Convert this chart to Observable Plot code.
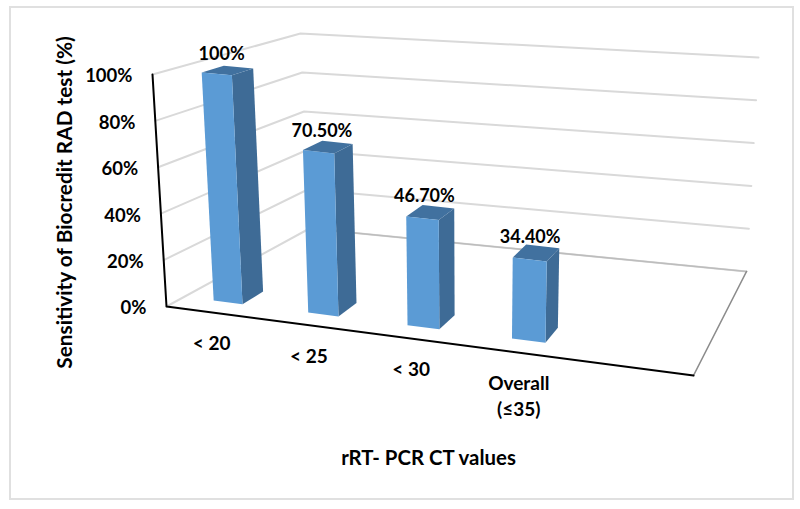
<!DOCTYPE html>
<html>
<head>
<meta charset="utf-8">
<script src="https://cdn.jsdelivr.net/npm/d3@7"></script>
<script src="https://cdn.jsdelivr.net/npm/@observablehq/plot@0.6"></script>
<style>html,body{margin:0;padding:0;background:#fff}svg{display:block}</style>
</head>
<body>
<div id="chart"></div>
<script>
const categories = ["< 20", "< 25", "< 30", "Overall\n(≤35)"];
const sensitivity = [100, 70.5, 46.7, 34.4];
const barLabels = ["100%", "70.50%", "46.70%", "34.40%"];
const gridValues = [0, 20, 40, 60, 80, 100];
const yTitle = "Sensitivity of Biocredit RAD test (%)";
const xTitle = "rRT- PCR CT values";

// 3D box of the chart as seen on the page: [category, depth, value/100] corners
const corners = {
  "000": [166, 306], "001": [152, 74],
  "100": [693, 375], "101": [704, 131],
  "010": [309, 228], "011": [300, 33],
  "110": [746, 271], "111": [758, 57]
};
const lerp = (a, b, t) => a + (b - a) * t;
function project(u, d, v) {
  const t = v / 100;
  return [0, 1].map(k => {
    const c = (s) => corners[s][k];
    const f0 = lerp(lerp(c("000"), c("100"), u), lerp(c("010"), c("110"), u), d);
    const f1 = lerp(lerp(c("001"), c("101"), u), lerp(c("011"), c("111"), u), d);
    return lerp(f0, f1, t);
  });
}
// perspective along the category axis (four categories in five bands)
const warp = t => t / (1.135 - 0.135 * t);
const bands = 5, halfBar = 0.031, d0 = 0.125, d1 = 0.28;
const centre = i => (i + 0.475) / bands;

const pt = (id, u, d, v) => { const [x, y] = project(u, d, v); return {id, x, y}; };
function face(id, list) { return [...list, list[0]].map(([u, d, v]) => pt(id, u, d, v)); }

const front = [], side = [], top_ = [], labels = [], catLabels = [];
categories.forEach((c, i) => {
  const v = sensitivity[i];
  const a = warp(centre(i) - halfBar), b = warp(centre(i) + halfBar), m = warp(centre(i));
  front.push(...face(i, [[a, d0, 0], [b, d0, 0], [b, d0, v], [a, d0, v]]));
  side.push(...face(i, [[b, d0, 0], [b, d1, 0], [b, d1, v], [b, d0, v]]));
  top_.push(...face(i, [[a, d0, v], [b, d0, v], [b, d1, v], [a, d1, v]]));
  const [tx, ty] = project(m, (d0 + d1) / 2, v);
  labels.push({x: tx, y: ty, text: barLabels[i]});
  const [cx, cy] = project(m, 0, 0);
  catLabels.push({x: cx, y: cy, text: c});
});

const grid = gridValues.flatMap(v => [pt(v, 0, 0, v), pt(v, 0, 1, v), pt(v, 1, 1, v)]);
const tickLabels = gridValues.map(v => { const [x, y] = project(0, 0, v); return {x, y, text: v + "%"}; });
const floorBack = [pt("f", 0, 1, 0), pt("f", 1, 1, 0), pt("f", 1, 0, 0)];
const axisLine = [pt("a", 0, 0, 100), pt("a", 0, 0, 0), pt("a", 1, 0, 0)];

const font = "Lato, Carlito, sans-serif";
const frame = [{x1: 10, x2: 793, y1: 7, y2: 499}];

const chart = Plot.plot({
  width: 800, height: 509,
  margin: 0,
  x: {type: "linear", domain: [0, 800], range: [0, 800], axis: null},
  y: {type: "linear", domain: [0, 509], range: [0, 509], axis: null},
  style: {background: "#fff", fontFamily: font},
  marks: [
    Plot.rect(frame, {x1: "x1", x2: "x2", y1: "y1", y2: "y2", fill: "none", stroke: "#e0e0e0", strokeWidth: 2}),
    Plot.line(grid, {x: "x", y: "y", z: "id", stroke: "#d9d9d9", strokeWidth: 2}),
    Plot.line(floorBack.slice(0, 2), {x: "x", y: "y", stroke: "#bdbdbd", strokeWidth: 1.6}),
    Plot.line(floorBack.slice(1), {x: "x", y: "y", stroke: "#8c8c8c", strokeWidth: 1.6}),
    Plot.line(axisLine, {x: "x", y: "y", stroke: "#000", strokeWidth: 2}),
    Plot.line(side, {x: "x", y: "y", z: "id", fill: "#3e6b96", stroke: null}),
    Plot.line(top_, {x: "x", y: "y", z: "id", fill: "#41719f", stroke: null}),
    Plot.line(front, {x: "x", y: "y", z: "id", fill: "#5b9bd5", stroke: null}),
    Plot.text(labels, {x: "x", y: "y", text: "text", dx: -6, dy: -16, fontSize: 18, fontWeight: 700, fill: "#000"}),
    Plot.text(tickLabels, {x: "x", y: "y", text: "text", dx: -20, dy: 2, textAnchor: "end", fontSize: 18.5, fontWeight: 700, fill: "#000"}),
    Plot.text(catLabels, {x: "x", y: "y", text: "text", dx: 0.5, dy: 19, lineAnchor: "top", fontSize: 19, fontWeight: 700, fill: "#000", lineHeight: 1.37}),
    Plot.text([yTitle], {x: () => 65, y: () => 202, text: d => d, rotate: -90, fontSize: 20.8, fontWeight: 700, fill: "#000"}),
    Plot.text([xTitle], {x: () => 428, y: () => 458, text: d => d, fontSize: 20.4, fontWeight: 700, fill: "#000"})
  ]
});
document.getElementById("chart").append(chart);
</script>
</body>
</html>
